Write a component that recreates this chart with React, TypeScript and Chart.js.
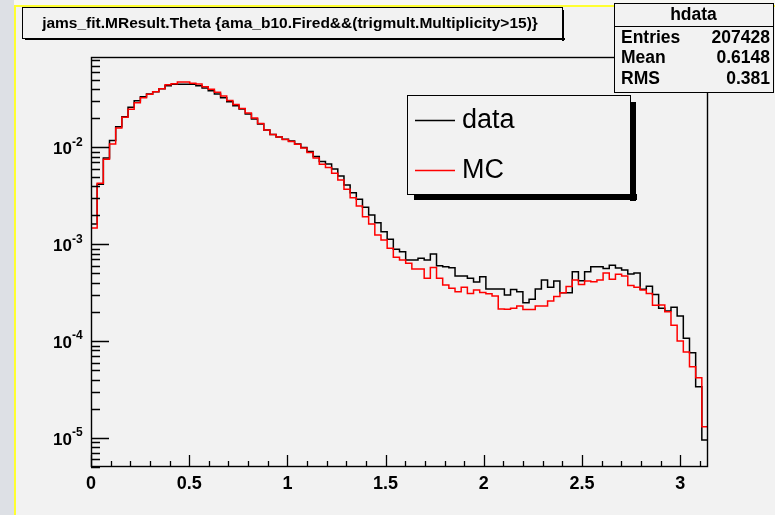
import React, { useEffect, useRef } from 'react';
import { Chart, registerables } from 'chart.js';

Chart.register(...registerables);

const X_MIN = 0;
const X_MAX = 3.1416;
const Y_MIN = 5e-6;
const Y_MAX = 0.0861;

const DATA_COUNTS = [
  1.62e-3, 4.17e-3, 7.79e-3, 1.18e-2, 1.64e-2, 2.08e-2, 2.60e-2, 3.04e-2, 3.35e-2, 3.57e-2,
  3.77e-2, 4.05e-2, 4.35e-2, 4.50e-2, 4.50e-2, 4.50e-2, 4.50e-2, 4.35e-2, 4.12e-2, 3.86e-2,
  3.57e-2, 3.27e-2, 2.97e-2, 2.70e-2, 2.50e-2, 2.22e-2, 1.97e-2, 1.75e-2, 1.52e-2, 1.36e-2,
  1.28e-2, 1.22e-2, 1.17e-2, 1.09e-2, 1.00e-2, 9.09e-3, 8.07e-3, 7.17e-3, 6.75e-3, 6.00e-3,
  5.08e-3, 4.10e-3, 3.41e-3, 2.92e-3, 2.41e-3, 2.01e-3, 1.67e-3, 1.35e-3, 1.13e-3, 8.88e-4,
  8.39e-4, 6.88e-4, 6.88e-4, 7.17e-4, 6.88e-4, 7.94e-4, 6.01e-4, 5.87e-4, 5.73e-4, 4.70e-4,
  4.70e-4, 4.45e-4, 4.08e-4, 4.63e-4, 3.45e-4, 3.45e-4, 3.45e-4, 2.99e-4, 3.42e-4, 3.24e-4,
  2.49e-4, 2.70e-4, 3.45e-4, 4.28e-4, 3.60e-4, 4.18e-4, 3.16e-4, 3.16e-4, 5.21e-4, 4.21e-4,
  5.21e-4, 5.87e-4, 5.87e-4, 5.62e-4, 6.07e-4, 5.69e-4, 5.43e-4, 4.93e-4, 5.05e-4, 3.43e-4,
  3.68e-4, 3.03e-4, 2.18e-4, 2.05e-4, 2.23e-4, 1.82e-4, 1.07e-4, 7.59e-5, 3.38e-5, 9.5e-6,
];

const MC_COUNTS = [
  1.47e-3, 4.27e-3, 7.55e-3, 1.09e-2, 1.59e-2, 2.05e-2, 2.48e-2, 2.90e-2, 3.27e-2, 3.55e-2,
  3.77e-2, 4.05e-2, 4.46e-2, 4.56e-2, 4.75e-2, 4.75e-2, 4.61e-2, 4.53e-2, 4.25e-2, 3.99e-2,
  3.72e-2, 3.40e-2, 3.06e-2, 2.78e-2, 2.53e-2, 2.27e-2, 2.02e-2, 1.77e-2, 1.52e-2, 1.36e-2,
  1.28e-2, 1.21e-2, 1.15e-2, 1.08e-2, 9.88e-3, 8.88e-3, 7.79e-3, 6.71e-3, 6.21e-3, 5.42e-3,
  4.62e-3, 3.70e-3, 3.03e-3, 2.49e-3, 1.93e-3, 1.62e-3, 1.25e-3, 1.11e-3, 9.09e-4, 7.34e-4,
  6.88e-4, 6.36e-4, 5.56e-4, 5.56e-4, 4.45e-4, 5.76e-4, 4.45e-4, 3.80e-4, 3.51e-4, 3.24e-4,
  3.60e-4, 3.10e-4, 3.37e-4, 3.18e-4, 3.09e-4, 2.92e-4, 2.15e-4, 2.13e-4, 2.18e-4, 2.30e-4,
  2.12e-4, 2.12e-4, 2.30e-4, 2.30e-4, 2.60e-4, 2.88e-4, 3.16e-4, 3.66e-4, 4.28e-4, 3.84e-4,
  4.18e-4, 4.11e-4, 4.28e-4, 5.05e-4, 4.35e-4, 4.91e-4, 4.70e-4, 3.75e-4, 3.60e-4, 3.37e-4,
  3.10e-4, 2.34e-4, 2.36e-4, 2.01e-4, 1.46e-4, 1.00e-4, 7.72e-5, 5.44e-5, 4.19e-5, 1.30e-5,
];

const X_TICK_LABELS = ['0', '0.5', '1', '1.5', '2', '2.5', '3'];
const Y_DECADE_EXPONENTS = [-5, -4, -3, -2];
const TITLE_TEXT = 'jams_fit.MResult.Theta {ama_b10.Fired&&(trigmult.Multiplicity>15)}';
const STATS_TITLE = 'hdata';
const STATS_LABELS = ['Entries', 'Mean', 'RMS'];
const STATS_VALUES = ['207428', '0.6148', '0.381'];
const LEGEND_LABELS = ['data', 'MC'];
const SERIES_COLORS = ['#000000', '#ff0000'];

const FONT = '"Liberation Sans", Arial, Helvetica, sans-serif';

function toSteps(values: number[]) {
  const n = values.length;
  const w = (X_MAX - X_MIN) / n;
  const pts = values.map((v, i) => ({ x: X_MIN + i * w, y: v }));
  pts.push({ x: X_MAX, y: values[n - 1] });
  return pts;
}

const rootPlugin = {
  id: 'rootStyle',
  beforeDraw(chart: any) {
    const ctx = chart.ctx;
    const w = chart.width;
    const h = chart.height;
    ctx.save();
    ctx.fillStyle = '#f2f2f2';
    ctx.fillRect(0, 0, w, h);
    ctx.fillStyle = '#dde0e5';
    ctx.fillRect(0, 0, 14, h);
    ctx.fillStyle = '#f7f7f4';
    ctx.fillRect(14, 0, w, 5);
    ctx.fillStyle = '#ffff30';
    ctx.fillRect(14, 5, w, 2);
    ctx.fillRect(14, 5, 2, h);
    ctx.restore();
  },
  afterDatasetsDraw(chart: any) {
    const ctx = chart.ctx;
    const a = chart.chartArea;
    const xs = chart.scales.x;
    const ys = chart.scales.y;
    ctx.save();
    ctx.strokeStyle = '#000';
    ctx.lineWidth = 1.4;
    ctx.strokeRect(a.left + 0.5, a.top + 0.5, a.right - a.left - 1, a.bottom - a.top - 1);

    // y ticks (log)
    ctx.lineWidth = 1.3;
    ctx.beginPath();
    for (let e = -7; e <= 0; e++) {
      for (let m = 1; m <= 9; m++) {
        const v = m * Math.pow(10, e);
        if (v < Y_MIN * 0.999 || v > Y_MAX) continue;
        const y = Math.round(ys.getPixelForValue(v)) + 0.5;
        const len = m === 1 ? 18 : 9;
        ctx.moveTo(a.left, y);
        ctx.lineTo(a.left + len, y);
      }
    }
    // x ticks
    for (let t = 0; t <= 31; t++) {
      const v = t / 10;
      const x = Math.round(xs.getPixelForValue(v)) + 0.5;
      const len = t % 5 === 0 ? 12 : 6;
      ctx.moveTo(x, a.bottom);
      ctx.lineTo(x, a.bottom - len);
    }
    ctx.stroke();

    // x labels
    ctx.fillStyle = '#000';
    ctx.font = `bold 18px ${FONT}`;
    ctx.textAlign = 'center';
    ctx.textBaseline = 'top';
    X_TICK_LABELS.forEach((lab) => {
      const x = xs.getPixelForValue(parseFloat(lab));
      ctx.fillText(lab, x, a.bottom + 8);
    });

    // y labels
    Y_DECADE_EXPONENTS.forEach((e) => {
      const y = ys.getPixelForValue(Math.pow(10, e));
      ctx.font = `bold 17px ${FONT}`;
      ctx.textAlign = 'right';
      ctx.textBaseline = 'middle';
      ctx.fillText('10', 72, y + 2);
      ctx.font = `bold 12px ${FONT}`;
      ctx.textAlign = 'left';
      ctx.fillText(String(e), 72, y - 5);
    });

    // title box
    const tb = { x: 22, y: 7, w: 540, h: 31 };
    ctx.fillStyle = '#000';
    ctx.fillRect(tb.x + 3, tb.y + tb.h, tb.w, 2);
    ctx.fillRect(tb.x + tb.w, tb.y + 3, 2, tb.h);
    ctx.fillStyle = '#f2f2f2';
    ctx.fillRect(tb.x, tb.y, tb.w, tb.h);
    ctx.strokeStyle = '#000';
    ctx.lineWidth = 1;
    ctx.strokeRect(tb.x + 0.5, tb.y + 0.5, tb.w, tb.h);
    ctx.fillStyle = '#000';
    ctx.font = `bold 15.5px ${FONT}`;
    ctx.textAlign = 'center';
    ctx.textBaseline = 'middle';
    ctx.fillText(TITLE_TEXT, tb.x + tb.w / 2 - 2, tb.y + tb.h / 2 + 1);

    // stats box
    const sb = { x: 614, y: 3, w: 159, h: 89 };
    ctx.fillStyle = '#f2f2f2';
    ctx.fillRect(sb.x, sb.y, sb.w, sb.h);
    ctx.strokeStyle = '#000';
    ctx.strokeRect(sb.x + 0.5, sb.y + 0.5, sb.w, sb.h);
    ctx.beginPath();
    ctx.moveTo(sb.x, sb.y + 23.5);
    ctx.lineTo(sb.x + sb.w, sb.y + 23.5);
    ctx.stroke();
    ctx.fillStyle = '#000';
    ctx.font = `bold 17.5px ${FONT}`;
    ctx.textAlign = 'center';
    ctx.fillText(STATS_TITLE, sb.x + sb.w / 2, sb.y + 12);
    STATS_LABELS.forEach((lab, i) => {
      const yy = sb.y + 35 + i * 20.5;
      ctx.textAlign = 'left';
      ctx.fillText(lab, sb.x + 7, yy);
      ctx.textAlign = 'right';
      ctx.fillText(STATS_VALUES[i], sb.x + sb.w - 3, yy);
    });

    // legend box
    const lb = { x: 407, y: 95, w: 223, h: 99 };
    ctx.fillStyle = '#000';
    ctx.fillRect(lb.x + 7, lb.y + lb.h, lb.w, 6);
    ctx.fillRect(lb.x + lb.w, lb.y + 7, 6, lb.h);
    ctx.fillStyle = '#f2f2f2';
    ctx.fillRect(lb.x, lb.y, lb.w, lb.h);
    ctx.strokeStyle = '#000';
    ctx.lineWidth = 1;
    ctx.strokeRect(lb.x + 0.5, lb.y + 0.5, lb.w, lb.h);
    LEGEND_LABELS.forEach((lab, i) => {
      const yy = lb.y + 25 + i * 50;
      ctx.strokeStyle = SERIES_COLORS[i];
      ctx.lineWidth = 1.3;
      ctx.beginPath();
      ctx.moveTo(415, yy + 0.5);
      ctx.lineTo(455, yy + 0.5);
      ctx.stroke();
      ctx.fillStyle = '#000';
      ctx.font = `27px ${FONT}`;
      ctx.textAlign = 'left';
      ctx.textBaseline = 'middle';
      ctx.fillText(lab, 462, yy + 1);
    });
    ctx.restore();
  },
};

export default function App() {
  const canvasRef = useRef<HTMLCanvasElement | null>(null);
  useEffect(() => {
    if (!canvasRef.current) return;
    const chart = new Chart(canvasRef.current, {
      type: 'line',
      data: {
        datasets: [
          {
            label: LEGEND_LABELS[0],
            data: toSteps(DATA_COUNTS),
            borderColor: SERIES_COLORS[0],
            borderWidth: 1.5,
            stepped: 'before',
            pointRadius: 0,
            fill: false,
            order: 1,
          },
          {
            label: LEGEND_LABELS[1],
            data: toSteps(MC_COUNTS),
            borderColor: SERIES_COLORS[1],
            borderWidth: 1.5,
            stepped: 'before',
            pointRadius: 0,
            fill: false,
            order: 0,
          },
        ],
      },
      options: {
        animation: false,
        responsive: false,
        devicePixelRatio: 1,
        layout: { padding: { left: 91, right: 67, top: 57, bottom: 48 } },
        scales: {
          x: { type: 'linear', min: X_MIN, max: X_MAX, display: false },
          y: { type: 'logarithmic', min: Y_MIN, max: Y_MAX, display: false },
        },
        plugins: {
          legend: { display: false },
          tooltip: { enabled: false },
          title: { display: false },
        },
      },
      plugins: [rootPlugin],
    });
    return () => chart.destroy();
  }, []);
  return (
    <div style={{ position: 'absolute', left: 0, top: 0, width: 775, height: 515 }}>
      <canvas ref={canvasRef} width={775} height={515} />
    </div>
  );
}
